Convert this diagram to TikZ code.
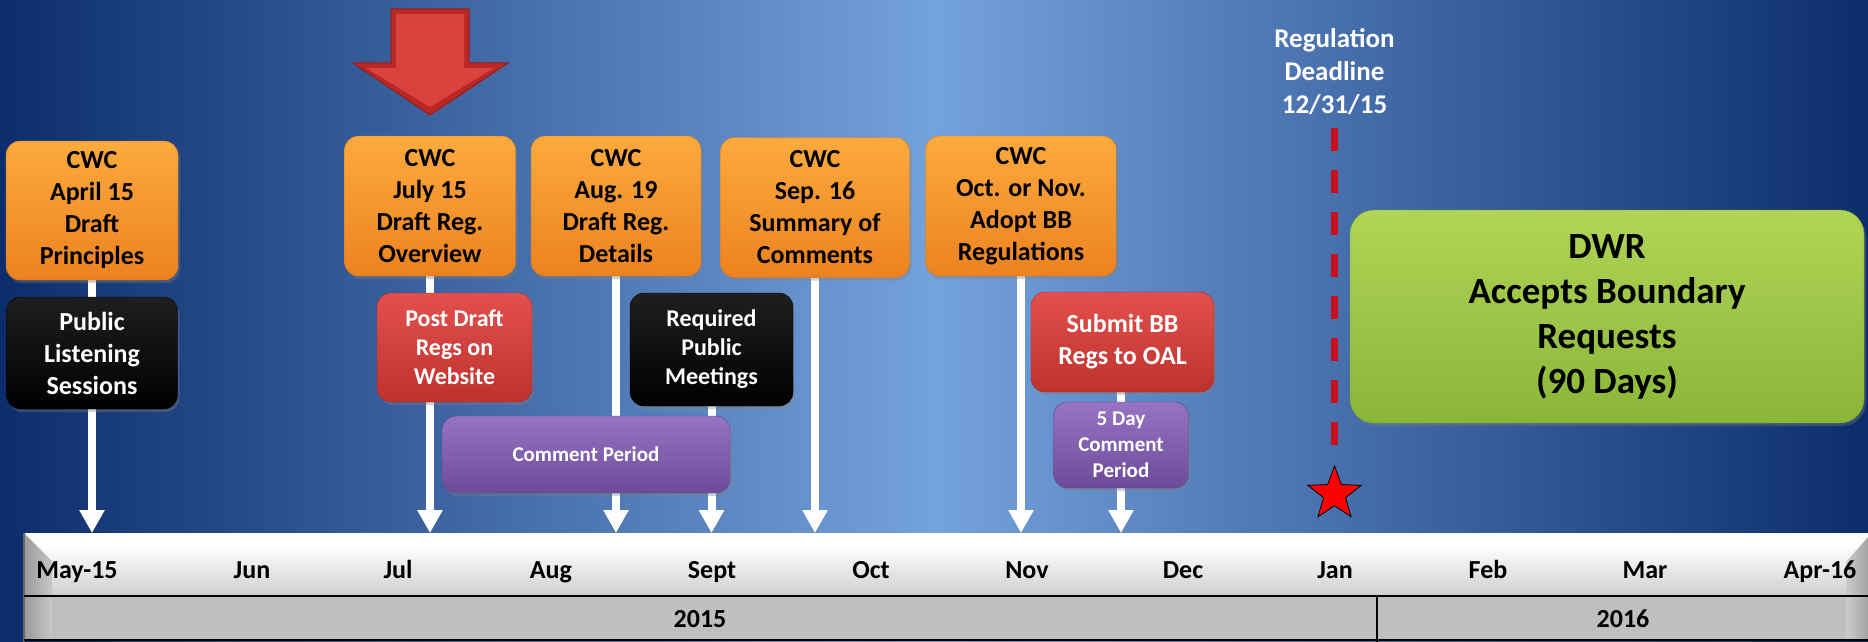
\documentclass[tikz,border=0pt]{standalone}
\usepackage{fontspec}
\setmainfont{Carlito}
\usetikzlibrary{arrows.meta,shapes.geometric,shadows}
\definecolor{orTop}{RGB}{252,170,62}
\definecolor{orBot}{RGB}{236,130,32}
\definecolor{orLine}{RGB}{214,118,28}
\definecolor{rdTop}{RGB}{226,80,76}
\definecolor{rdBot}{RGB}{190,50,46}
\definecolor{rdLine}{RGB}{170,40,36}
\definecolor{puTop}{RGB}{150,116,196}
\definecolor{puBot}{RGB}{108,76,152}
\definecolor{puLine}{RGB}{96,66,138}
\definecolor{gnTop}{RGB}{176,212,86}
\definecolor{gnBot}{RGB}{138,182,56}
\definecolor{gnLine}{RGB}{120,160,48}
\definecolor{bgEdge}{RGB}{12,45,108}
\definecolor{bgMid}{RGB}{116,162,220}
\definecolor{dlRed}{RGB}{200,16,30}
\definecolor{arTop}{RGB}{218,66,62}
\definecolor{arBot}{RGB}{186,40,38}
\definecolor{arLine}{RGB}{150,30,28}
\definecolor{starRed}{RGB}{255,0,0}
\pgfdeclarelayer{back}
\pgfdeclarelayer{mid}
\pgfsetlayers{back,mid,main}

\begin{document}
\begin{tikzpicture}
			[x=1pt,y=-1pt,
			box/.style={rounded corners=14pt,inner sep=0pt,align=center,
				font=\fontsize{26}{32}\selectfont\bfseries,
				drop shadow={opacity=0.35,shadow xshift=2pt,shadow yshift=-3pt}},
			cwc/.style={box,top color=orTop,bottom color=orBot,draw=orLine,minimum height=140pt},
			blk/.style={box,top color=black!88,bottom color=black,draw=black,text=white},
			rdbox/.style={box,top color=rdTop,bottom color=rdBot,draw=rdLine,text=white},
			pubox/.style={box,top color=puTop,bottom color=puBot,draw=puLine,text=white,
				font=\fontsize{21}{26}\selectfont\bfseries},
			tick/.style={white,line width=8pt,-{Triangle[width=24pt,length=23pt]}},
			mon/.style={anchor=base,font=\fontsize{26}{31}\selectfont\bfseries}]
			
			\useasboundingbox (0,0) rectangle (1868,642);
			\begin{pgfonlayer}{back}
				\shade[left color=bgEdge,right color=bgEdge,middle color=bgMid] (0,0) rectangle (1868,642);
			\end{pgfonlayer}
			
			\filldraw[fill=arBot,draw=arLine,line width=1pt]
			(391,9) -- (469,9) -- (469,63) -- (508,63) -- (430,115) -- (353,63) -- (391,63) -- cycle;
			\fill[arTop] (396,14) -- (464,14) -- (464,68) -- (494,68) -- (430,107) -- (366,68) -- (396,68) -- cycle;
			
			\node[cwc,minimum width=172pt,minimum height=139pt] (cwcA) at (92,210.5){CWC\\April 15\\Draft\\Principles};
			\node[cwc,minimum width=171pt] (cwcB) at (430,206){CWC\\July 15\\Draft Reg.\\Overview};
			\node[cwc,minimum width=170pt] (cwcC) at (616,206){CWC\\Aug. 19\\Draft Reg.\\Details};
			\node[cwc,minimum width=189pt] (cwcD) at (815,207.5){CWC\\Sep. 16\\Summary of\\Comments};
			\node[cwc,minimum width=191pt] (cwcE) at (1021,206){CWC\\Oct. or Nov.\\Adopt BB\\Regulations};
			
			\node[blk,minimum width=171pt,minimum height=112pt] (pubA) at (92,353){Public\\Listening\\Sessions};
			\node[rdbox,minimum width=155pt,minimum height=109pt,font=\fontsize{24}{29}\selectfont\bfseries]
			(postB) at (454.5,347.5){Post Draft\\Regs on\\Website};
			\node[blk,minimum width=163pt,minimum height=113pt,font=\fontsize{24}{29}\selectfont\bfseries]
			(reqC) at (711.5,349.5){Required\\Public\\Meetings};
			\node[rdbox,minimum width=183pt,minimum height=100pt] (subE) at (1122.5,342){Submit BB\\Regs to OAL};
			\node[pubox,minimum width=288pt,minimum height=77pt] (comB) at (586,454.5){Comment Period};
			\node[pubox,minimum width=135pt,minimum height=86pt] (dayE) at (1121,445){5 Day\\Comment\\Period};
			
			\node[box,rounded corners=24pt,top color=gnTop,bottom color=gnBot,draw=gnLine,
			minimum width=514pt,minimum height=213pt,font=\fontsize{37}{45}\selectfont\bfseries]
			(dwr) at (1607,316.5){DWR\\Accepts Boundary\\Requests\\(90 Days)};
			
			\node[align=center,text=white,inner sep=0pt,font=\fontsize{27}{33}\selectfont\bfseries]
			(dl) at (1334.5,72){Regulation\\Deadline\\12/31/15};
			\node[star,star points=5,star point ratio=2.4,minimum size=56pt,inner sep=0pt,
			fill=starRed,draw=black,line width=0.8pt] (star) at (1334.5,494){};
			
			% timeline
			\coordinate (bartop) at (0,533);
			\shade[top color=white,bottom color=black!19] (24,545) rectangle (1868,596);
			\fill[white] (24,533) rectangle (1868,546);
			\fill[black!25] (24,596) rectangle (1868,640);
			\shade[left color=black!40,right color=black!22] (24,533) -- (52,561) -- (52,640) -- (24,640) -- cycle;
			\shade[left color=black!20,right color=black!36] (1868,537) -- (1846,562) -- (1846,640) -- (1868,640) -- cycle;
			\draw[black!60,line width=1.5pt] (24,533) -- (24,642);
			\draw[line width=2pt] (24,596) -- (1868,596);
			\draw[line width=2pt] (24,640) -- (1868,640);
			\draw[line width=1.5pt] (1377,596) -- (1377,642);
			
			\node[mon] at (77,578){May-15};
			\node[mon] at (252,578){Jun};
			\node[mon] at (398,578){Jul};
			\node[mon] at (551,578){Aug};
			\node[mon] at (712,578){Sept};
			\node[mon] at (871,578){Oct};
			\node[mon] at (1027,578){Nov};
			\node[mon] at (1183,578){Dec};
			\node[mon] at (1335,578){Jan};
			\node[mon] at (1488,578){Feb};
			\node[mon] at (1645,578){Mar};
			\node[mon] at (1820,578){Apr-16};
			\node[mon] at (700,627){2015};
			\node[mon] at (1623,627){2016};
			
			\begin{pgfonlayer}{mid}
				\draw[tick] (cwcA) -- (cwcA |- bartop);
				\draw[tick] (cwcB) -- (cwcB |- bartop);
				\draw[tick] (cwcC) -- (cwcC |- bartop);
				\draw[tick] (reqC) -- (reqC |- bartop);
				\draw[tick] (cwcD) -- (cwcD |- bartop);
				\draw[tick] (cwcE) -- (cwcE |- bartop);
				\draw[tick] (dayE) -- (dayE |- bartop);
				\draw[white,line width=8pt] (dayE) -- (dayE |- subE.south);
			\end{pgfonlayer}
			\draw[dlRed,line width=7pt,dash pattern=on 23pt off 19pt,shorten <=13pt,shorten >=19pt] (dl) -- (star);
			
		\end{tikzpicture}
\end{document}
